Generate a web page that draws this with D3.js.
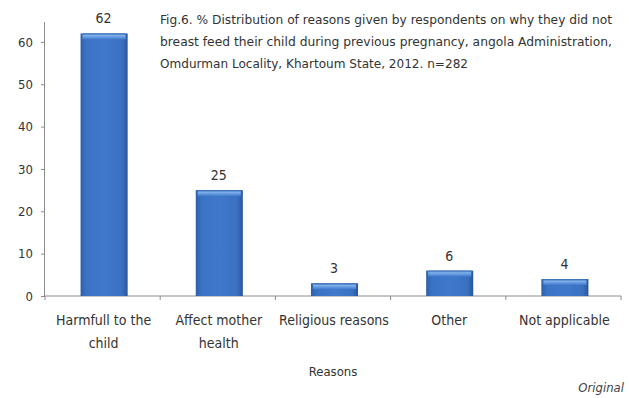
<!DOCTYPE html>
<html><head><meta charset="utf-8">
<script src="https://cdn.jsdelivr.net/npm/d3@7"></script>
<style>body{margin:0;background:#fff}svg{display:block}</style>
</head><body>
<svg id="c" width="629" height="398"></svg>
<script>
const categories = [["Harmfull to the","child"],["Affect mother","health"],["Religious reasons"],["Other"],["Not applicable"]];
const values = [62, 25, 3, 6, 4];
const yTicks = [0, 10, 20, 30, 40, 50, 60];
const titleLines = [
  "Fig.6. % Distribution  of reasons given by respondents on  why they did not",
  "breast feed their child  during previous  pregnancy, angola Administration,",
  "Omdurman Locality,  Khartoum State, 2012.  n=282"
];
const xTitle = "Reasons";
const note = "Original";

const svg = d3.select("#c");
const font = "'Liberation Sans Narrow','DejaVu Sans Condensed',sans-serif";
const left = 45, right = 621, y0 = 296, yTop = 22;
const x = d3.scaleBand().domain(d3.range(values.length)).range([left, right]).paddingInner(0.6).paddingOuter(0.3);
const y = d3.scaleLinear().domain([0, 64.7]).range([y0, yTop]);

const defs = svg.append("defs");
const g1 = defs.append("linearGradient").attr("id","gh").attr("x1",0).attr("x2",1).attr("y1",0).attr("y2",0);
g1.append("stop").attr("offset","0").attr("stop-color","#2d5fa8");
g1.append("stop").attr("offset","0.12").attr("stop-color","#3a72c4");
g1.append("stop").attr("offset","0.5").attr("stop-color","#4079cc");
g1.append("stop").attr("offset","0.88").attr("stop-color","#3a70c0");
g1.append("stop").attr("offset","1").attr("stop-color","#28569a");
const g2 = defs.append("linearGradient").attr("id","gt").attr("x1",0).attr("x2",0).attr("y1",0).attr("y2",1);
g2.append("stop").attr("offset","0").attr("stop-color","#2f63ad");
g2.append("stop").attr("offset","0.35").attr("stop-color","#7fb0ec");
g2.append("stop").attr("offset","1").attr("stop-color","#4079cc");

// axes
const yAxis = d3.axisLeft(y).tickValues(yTicks).tickSize(4).tickPadding(8);
const ya = svg.append("g").attr("transform",`translate(${left},0)`).call(yAxis);
ya.select(".domain").attr("d", `M-0.5,${yTop}V${y0}`).attr("stroke","#8c8c8c");
ya.selectAll(".tick line").attr("stroke","#8c8c8c");
ya.selectAll(".tick text").attr("font-family",font).attr("font-size",13).attr("fill","#333");

const xa = svg.append("g").attr("transform",`translate(0,${y0})`);
xa.append("line").attr("x1",left).attr("x2",right).attr("stroke","#8c8c8c");
d3.range(values.length+1).forEach(i=>{
  const xx = left + i*(right-left)/values.length;
  xa.append("line").attr("x1",xx).attr("x2",xx).attr("y1",0).attr("y2",4).attr("stroke","#8c8c8c");
});

// bars
const bars = svg.append("g").selectAll("g").data(values).join("g");
bars.append("rect").attr("x",(d,i)=>x(i)+1).attr("y",d=>y(d)).attr("width",x.bandwidth()+1)
  .attr("height",d=>y0-y(d)).attr("fill","url(#gh)");
bars.append("rect").attr("x",(d,i)=>x(i)+3).attr("y",d=>y(d)).attr("width",x.bandwidth()-3)
  .attr("height",d=>Math.min(6,y0-y(d))).attr("fill","url(#gt)");

// value labels
svg.append("g").selectAll("text").data(values).join("text")
  .attr("x",(d,i)=>x(i)+x.bandwidth()/2+1).attr("y",d=>y(d)-10)
  .attr("text-anchor","middle").attr("font-family",font).attr("font-size",14)
  .attr("fill","#333").text(d=>d);

// category labels
const cl = svg.append("g").selectAll("text").data(categories).join("text")
  .attr("text-anchor","middle").attr("font-family",font).attr("font-size",14).attr("fill","#333");
cl.each(function(lines,i){
  const t = d3.select(this);
  lines.forEach((ln,j)=>t.append("tspan").attr("x",x(i)+x.bandwidth()/2+1).attr("y",325+j*23).text(ln));
});

svg.append("text").attr("x",333).attr("y",376).attr("text-anchor","middle")
  .attr("font-family",font).attr("font-size",13).attr("fill","#333").text(xTitle);

svg.append("text").attr("x",624).attr("y",392).attr("text-anchor","end")
  .attr("font-family",font).attr("font-size",13).attr("font-style","italic").attr("fill","#444").text(note);

// title
const lens = [452, 452, 308];
svg.append("g").selectAll("text").data(titleLines).join("text")
  .attr("x",160).attr("y",(d,i)=>24+i*22)
  .attr("font-family",font).attr("font-size",12.5).attr("fill","#333")
  .attr("textLength",(d,i)=>lens[i]).attr("lengthAdjust","spacingAndGlyphs")
  .text(d=>d);
</script>
</body></html>
